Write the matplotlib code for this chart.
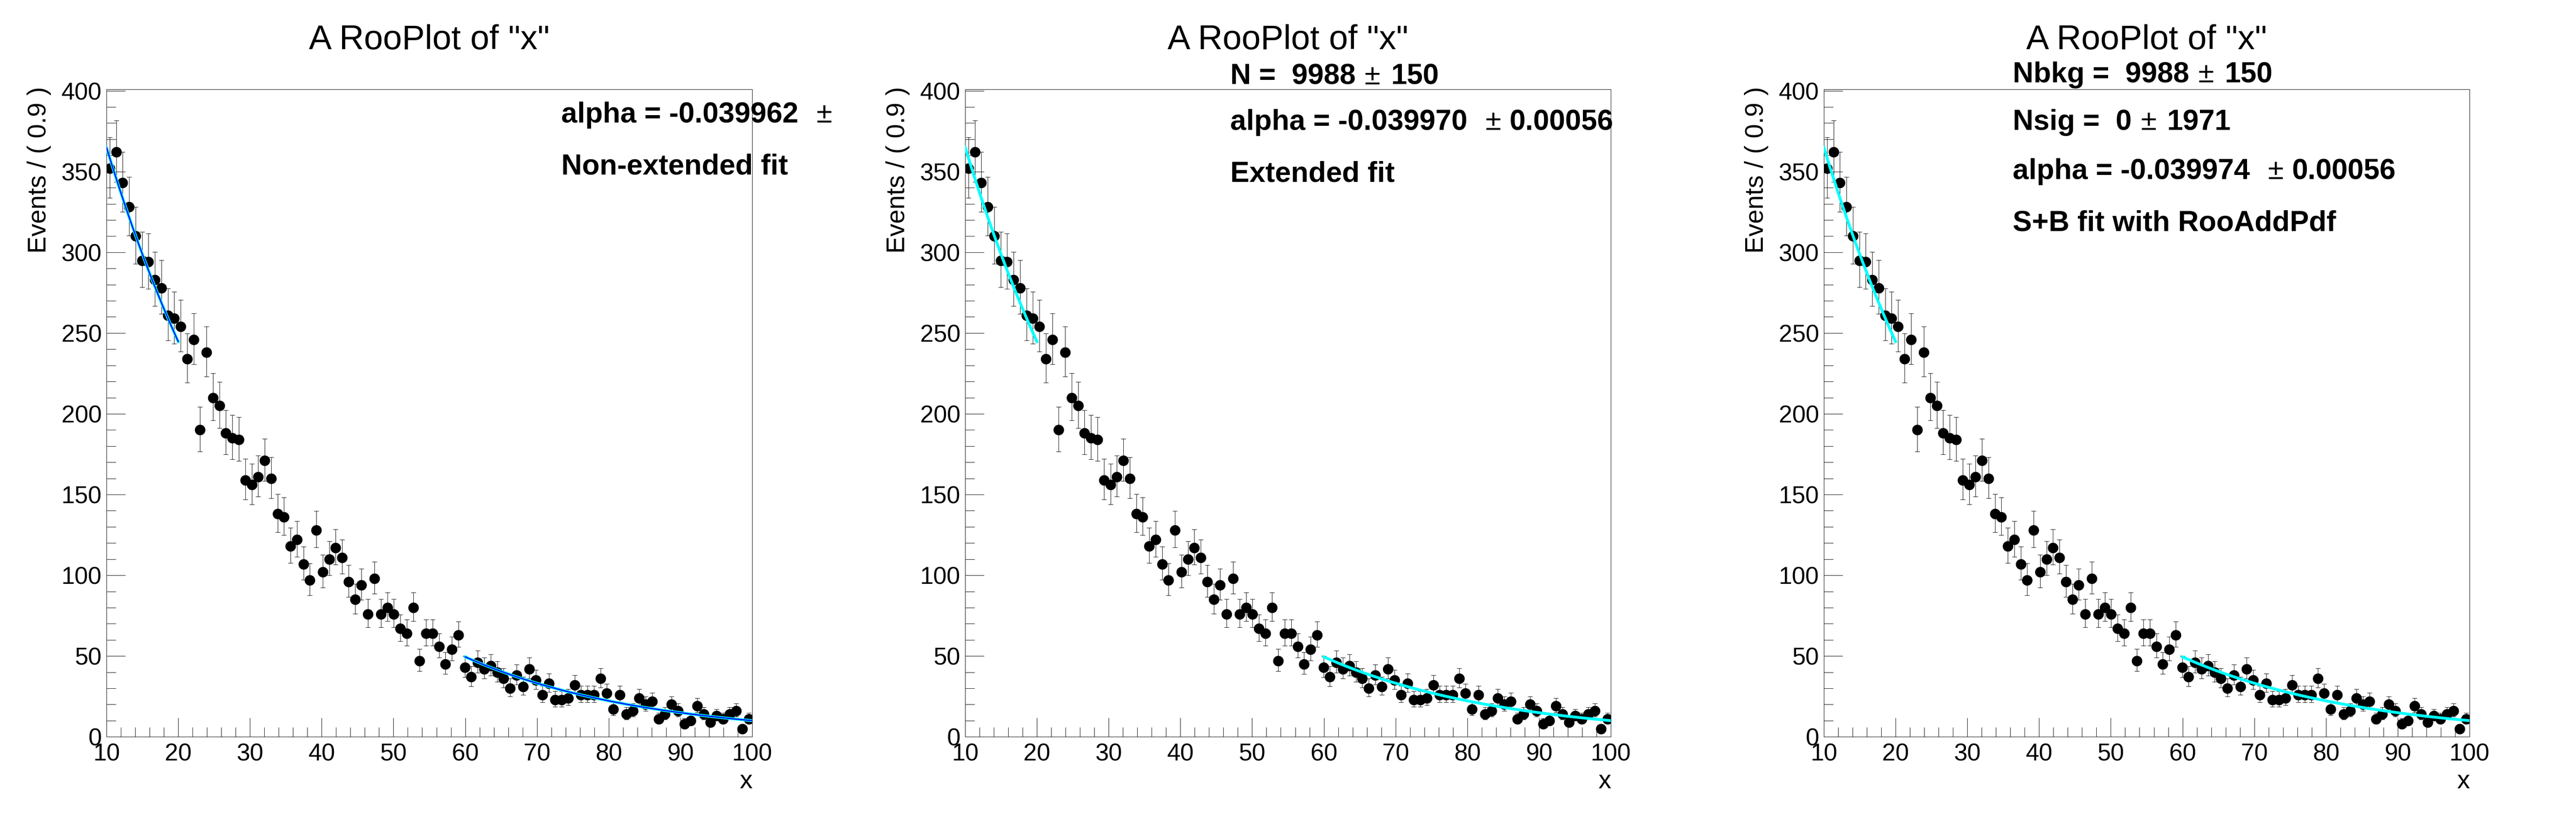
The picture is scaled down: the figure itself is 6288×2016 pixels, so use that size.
import numpy as np
import matplotlib
matplotlib.use("Agg")
import matplotlib.pyplot as plt
from matplotlib.ticker import MultipleLocator

# =============================================================================
# Datos
# =============================================================================
xMin, xMax, nBins = 10.0, 100.0, 100
cuentas = [
    352, 362, 343, 328, 310, 295, 294, 283, 278, 261,
    259, 254, 234, 246, 190, 238, 210, 205, 188, 185,
    184, 159, 156, 161, 171, 160, 138, 136, 118, 122,
    107, 97, 128, 102, 110, 117, 111, 96, 85, 94,
    76, 98, 76, 80, 76, 67, 64, 80, 47, 64,
    64, 56, 45, 54, 63, 43, 37, 46, 42, 44,
    40, 36, 30, 38, 31, 42, 35, 26, 33, 23,
    23, 24, 32, 26, 26, 26, 36, 27, 17, 26,
    14, 16, 24, 20, 22, 11, 14, 20, 16, 8,
    10, 19, 14, 9, 13, 11, 14, 16, 5, 11,
]

# valores de alpha ajustados en cada panel
alphas = [-0.039962, -0.039970, -0.039974]
curvaEn10 = 365.0            # altura de la curva en x = 10
rangosAjuste = [(10, 20), (60, 100)]

titulo = 'A RooPlot of "x"'
tituloY = "Events / ( 0.9 )"
tituloX = "x"

# lineas de texto de cada panel: lista de segmentos (texto, peso, hueco despues)
textosPanel = [
    [[("alpha = -0.039962", "bold", 44), ("\u00b1", "normal", 0)],
     [("Non-extended fit", "bold", 0)]],
    [[("N =  9988", "bold", 22), ("\u00b1", "normal", 26), ("150", "bold", 0)],
     [("alpha = -0.039970", "bold", 44), ("\u00b1", "normal", 20), ("0.00056", "bold", 0)],
     [("Extended fit", "bold", 0)]],
    [[("Nbkg =  9988", "bold", 22), ("\u00b1", "normal", 26), ("150", "bold", 0)],
     [("Nsig =  0", "bold", 22), ("\u00b1", "normal", 26), ("1971", "bold", 0)],
     [("alpha = -0.039974", "bold", 44), ("\u00b1", "normal", 20), ("0.00056", "bold", 0)],
     [("S+B fit with RooAddPdf", "bold", 0)]],
]
# posicion (x izquierda, lineas base) en pixeles de la figura
textoX = [1370, 3003, 4913]
textoBases = [[299, 426], [206, 317, 444], [201, 317, 437, 564]]

# =============================================================================
# Figura
# =============================================================================
W, H = 6288, 2016
plt.rcParams['font.family'] = ['Liberation Sans', 'DejaVu Sans']
fig = plt.figure(figsize=(W / 100, H / 100), dpi=100)
renderer = fig.canvas.get_renderer()

anchoBin = (xMax - xMin) / nBins
centros = xMin + anchoBin * (np.arange(nBins) + 0.5)
n = np.array(cuentas, dtype=float)
errAbajo = np.sqrt(n + 0.25) - 0.5
errArriba = np.sqrt(n + 0.25) + 0.5


def escribirLinea(xPx, basePx, segmentos, tam):
    x = xPx
    for texto, peso, hueco in segmentos:
        t = fig.text(x / W, 1 - basePx / H, texto, fontsize=tam, fontweight=peso,
                     ha="left", va="baseline")
        bb = t.get_window_extent(renderer=renderer)
        x = bb.x1 + hueco


for i in range(3):
    padX1 = i / 3 + 0.01
    padX2 = (i + 1) / 3 - 0.01
    padW = padX2 - padX1
    ax = fig.add_axes([padX1 + 0.1 * padW, 0.01 + 0.098, 0.8 * padW, 0.784])

    ax.errorbar(centros, n, yerr=[errAbajo, errArriba], fmt="o", color="black",
                markersize=17.5, elinewidth=0.75, capsize=4.3, capthick=0.75, zorder=3)

    for (a, b) in rangosAjuste:
        xs = np.linspace(a, b, 200)
        ys = curvaEn10 * np.exp(alphas[i] * (xs - xMin))
        if i == 0:
            ax.plot(xs, ys, color="#00ffff", lw=5, zorder=4)
            ax.plot(xs, ys, color="#0000ff", lw=2.2, zorder=5)
        else:
            ax.plot(xs, ys, color="#0000ff", lw=2.2, zorder=4)
            ax.plot(xs, ys, color="#00ffff", lw=5, zorder=5)

    ax.set_xlim(xMin, xMax)
    ax.set_ylim(0, 401)
    ax.set_xticks(np.arange(10, 101, 10))
    ax.set_yticks(np.arange(0, 401, 50))
    ax.xaxis.set_minor_locator(MultipleLocator(2))
    ax.yaxis.set_minor_locator(MultipleLocator(10))
    ax.tick_params(which="both", direction="in", width=0.75, top=False, right=False,
                   labelsize=42.5)
    ax.tick_params(which="major", length=33)
    ax.tick_params(which="minor", length=16.5)
    ax.tick_params(axis="x", pad=11)
    ax.tick_params(axis="y", pad=8.5)
    for s in ax.spines.values():
        s.set_linewidth(0.75)

    # titulo del panel
    centroPad = (padX1 + padX2) / 2
    fig.text(centroPad, 1 - 120 / H, titulo, fontsize=60, ha="center", va="baseline")

    # titulos de ejes
    xPadPx = padX1 * W
    fig.text((xPadPx + 49) / W, 1 - 212 / H, tituloY, fontsize=45, rotation=90,
             rotation_mode="anchor", ha="right", va="baseline")
    ejeDerPx = (padX1 + 0.9 * padW) * W
    fig.text(ejeDerPx / W, 1 - 1924 / H, tituloX, fontsize=45, ha="right", va="baseline")

    # caja de parametros
    for linea, base in zip(textosPanel[i], textoBases[i]):
        escribirLinea(textoX[i], base, linea, 50.5)

fig.savefig("out.png", dpi=100)
